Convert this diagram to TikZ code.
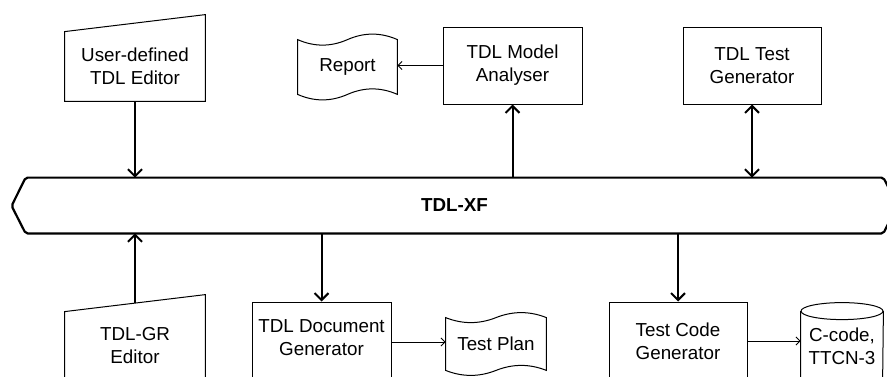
\documentclass[tikz,border=0pt]{standalone}
\usepackage{fontspec}
\setmainfont{Liberation Sans}
\usetikzlibrary{calc,arrows.meta}

\tikzset{
  box/.style={draw, line width=0.5pt, align=center, inner sep=0pt},
  hollow/.style={align=center, inner sep=0pt},
  wall/.style={line width=0.5pt},
  link/.style={-{Straight Barb[length=3.5pt,width=7pt]}, line width=1pt},
  twolink/.style={{Straight Barb[length=3.5pt,width=7pt]}-{Straight Barb[length=3.5pt,width=7pt]}, line width=1pt},
  feed/.style={-{Straight Barb[length=2pt,width=4pt]}, line width=0.45pt},
}

% wavy paper sheet round a node: name, wave depth
\newcommand\drawtape[2]{%
  \draw[wall] let \p1=(#1.north west), \p2=(#1.south east), \n1={\x2-\x1}, \n2={#2} in
    (\x1,{\y1-\n2})
      .. controls ({\x1+\n1/6},{\y1-5*\n2/3}) and ({\x1+\n1/3},{\y1-5*\n2/3}) .. ({\x1+\n1/2},{\y1-\n2})
      .. controls ({\x1+2*\n1/3},{\y1-\n2/3}) and ({\x1+5*\n1/6},{\y1-\n2/3}) .. (\x2,{\y1-\n2})
    -- (\x2,{\y2+\n2})
      .. controls ({\x1+5*\n1/6},{\y2+5*\n2/3}) and ({\x1+2*\n1/3},{\y2+5*\n2/3}) .. ({\x1+\n1/2},{\y2+\n2})
      .. controls ({\x1+\n1/3},{\y2+\n2/3}) and ({\x1+\n1/6},{\y2+\n2/3}) .. (\x1,{\y2+\n2})
    -- cycle;}

\begin{document}
\begin{tikzpicture}[x=0.5pt, y=0.5pt, font=\fontsize{9.4pt}{11.5pt}\selectfont]
  \useasboundingbox (0,0) rectangle (887,376);
  \clip (0,0) rectangle (887,376);

  % exchange bus
  \node[hollow, minimum width=428.5pt, minimum height=27.5pt, font=\fontsize{9.4pt}{11.5pt}\selectfont\bfseries]
    (bus) at (454.5,170.5) {TDL-XF};
  \draw[line width=1.1pt, rounded corners=1pt]
    (bus.north west) -- (bus.north east) -- ++(14,-27.5) -- (bus.south east)
    -- (bus.south west) -- ++(-14,27.5) -- cycle;

  % upper row
  \node[hollow, minimum width=70pt, minimum height=34.5pt] (ued) at (135,309.5) {User-defined\\TDL Editor};
  \draw[wall] (ued.south west) -- (ued.north west) -- ($(ued.north east)+(0,17)$) -- (ued.south east) -- cycle;
  \node[box, minimum width=69.5pt, minimum height=38.5pt] (analyser) at (512.5,310.5) {TDL Model\\Analyser};
  \node[hollow, minimum width=49.5pt, minimum height=38pt] (report) at (347.5,309) {Report};
  \drawtape{report}{5.5pt}
  \node[box, minimum width=69pt, minimum height=38.5pt] (tgen) at (752,310.5) {TDL Test\\Generator};

  % lower row
  \node[hollow, minimum width=70pt, minimum height=34pt] (gr) at (135,30) {TDL-GR\\Editor};
  \draw[wall] (gr.south west) -- (gr.north west) -- ($(gr.north east)+(0,17)$) -- (gr.south east) -- cycle;
  \coordinate (grtop) at ($(gr.north)+(0,8.5)$);
  \node[box, minimum width=69.5pt, minimum height=40pt, text depth=4pt] (docgen) at (321.5,34) {TDL Document\\Generator};
  \node[hollow, minimum width=50pt, minimum height=36pt] (plan) at (496,32) {Test Plan};
  \drawtape{plan}{5pt}
  \node[box, minimum width=69pt, minimum height=39pt] (tcg) at (678,35) {Test Code\\Generator};
  \node[hollow, minimum width=41pt, minimum height=43pt] (ccode) at (842,30) {C-code,\\TTCN-3};
  \draw[wall] ($(ccode.north west)+(0,-4.25pt)$) -- ($(ccode.south west)+(0,4.25pt)$)
    arc[start angle=180, end angle=360, x radius=20.5pt, y radius=4.25pt]
    -- ($(ccode.north east)+(0,-4.25pt)$);
  \draw[wall] ($(ccode.north)+(0,-4.25pt)$) ellipse[x radius=20.5pt, y radius=4.25pt];

  % connectors
  \draw[link] (ued.south) -- (ued.south |- bus.north);
  \draw[link] (analyser.south |- bus.north) -- (analyser.south);
  \draw[twolink] (tgen.south |- bus.north) -- (tgen.south);
  \draw[feed] (analyser.west) -- (analyser.west -| report.east);
  \draw[link] (grtop) -- (grtop |- bus.south);
  \draw[link] (docgen.north |- bus.south) -- (docgen.north);
  \draw[link] (tcg.north |- bus.south) -- (tcg.north);
  \draw[feed] (docgen.east) -- (docgen.east -| plan.west);
  \draw[feed] (tcg.east) -- (tcg.east -| ccode.west);
\end{tikzpicture}
\end{document}
